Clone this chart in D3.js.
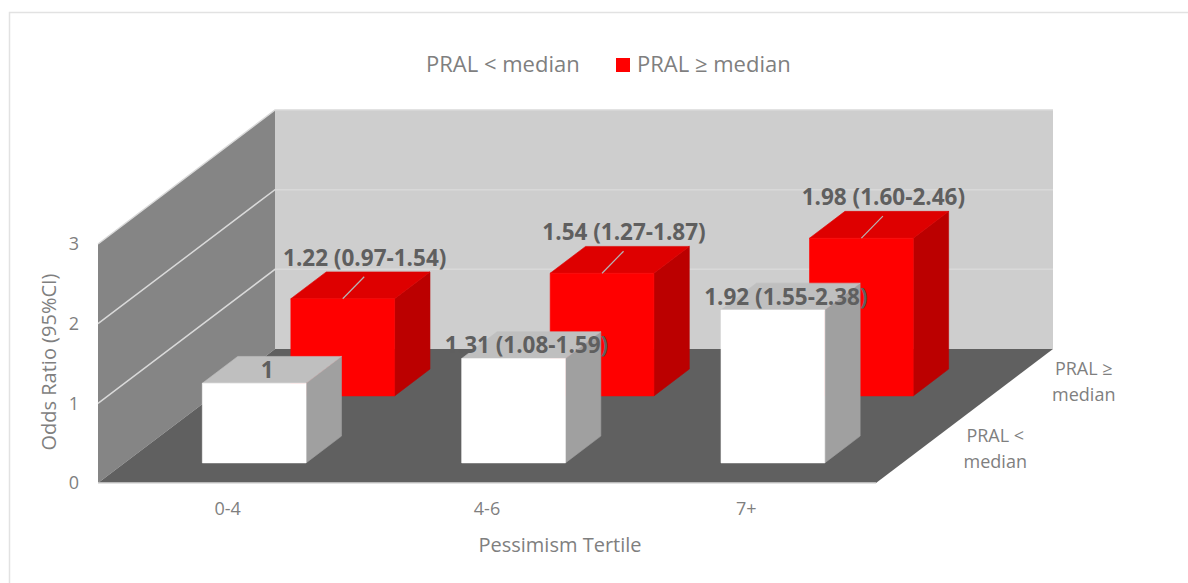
<!DOCTYPE html>
<html lang="en">
  <head>
    <title>Odds Ratio by Pessimism Tertile</title>
    <script src="https://d3js.org/d3.v7.min.js"></script>
    <style>
      html, body { margin: 0; padding: 0; background: #fff; }
      svg { display: block; }
      text { font-family: "Open Sans", sans-serif; }
      .tick-label { font-size: 18px; fill: #7f7f7f; }
      .axis-title { font-size: 20px; fill: #7f7f7f; }
      .legend-label { font-size: 22px; fill: #7f7f7f; }
      .bar-label { font-size: 22.5px; font-weight: 700; fill: #5f5f5f; }
    </style>
  </head>
  <body>
    <script>
      const categories = ['0-4', '4-6', '7+'];
      const series = ['PRAL < median', 'PRAL ≥ median'];
      const oddsRatio = [
        [1, 1.31, 1.92],
        [1.22, 1.54, 1.98]
      ];
      const barLabels = [
        ['1', '1.31 (1.08-1.59)', '1.92 (1.55-2.38)'],
        ['1.22 (0.97-1.54)', '1.54 (1.27-1.87)', '1.98 (1.60-2.46)']
      ];
      const yTicks = [0, 1, 2, 3];

      const w = 1188;
      const h = 583;

      // front left corner of the floor and the depth vector of the 3D box
      const origin = { x: 98, y: 483 };
      const plotWidth = 778;
      const plotHeight = 239;
      const depthVec = { x: 177, y: -134 };

      const xScale = d3.scaleBand()
                       .domain(categories)
                       .range([0, plotWidth])
                       .paddingInner(0.6)
                       .paddingOuter(0.3);

      const zScale = d3.scaleBand()
                       .domain(series)
                       .range([0, 1])
                       .paddingInner(0.6)
                       .paddingOuter(0.3);

      const yScale = d3.scaleLinear().domain([0, 3]).range([0, plotHeight]);

      // x in px along the front, z in 0-1 going back, v in data units
      const project = (x, z, v) => [
        origin.x + x + z * depthVec.x,
        origin.y + z * depthVec.y - yScale(v)
      ];
      const poly = pts => d3.line()(pts) + 'Z';

      const svg = d3.select('body')
                    .append('svg')
                    .attr('width', w)
                    .attr('height', h);

      // chart frame, cut off by the picture on the right and bottom
      svg.append('path')
         .attr('d', `M9.5,${h}V12.5H${w}`)
         .attr('fill', 'none')
         .attr('stroke', '#e2e2e2')
         .attr('stroke-width', 1.5);

      // walls and floor
      const maxTick = yTicks[yTicks.length - 1];
      svg.append('path')
         .attr('fill', '#cecece')
         .attr('d', poly([project(0, 1, 0), project(0, 1, maxTick), project(plotWidth, 1, maxTick), project(plotWidth, 1, 0)]));
      svg.append('path')
         .attr('fill', '#858585')
         .attr('d', poly([project(0, 0, 0), project(0, 0, maxTick), project(0, 1, maxTick), project(0, 1, 0)]));
      svg.append('path')
         .attr('fill', '#606060')
         .attr('d', poly([project(0, 0, 0), project(plotWidth, 0, 0), project(plotWidth, 1, 0), project(0, 1, 0)]));

      // gridlines on both walls
      svg.append('g')
         .selectAll('path')
         .data(yTicks)
         .enter()
         .append('path')
          .attr('fill', 'none')
          .attr('stroke', '#d9d9d9')
          .attr('stroke-width', 1.5)
          .attr('d', d => d3.line()(d === 0
            ? [project(0, 0, 0), project(plotWidth, 0, 0)]
            : [project(0, 0, d), project(0, 1, d), project(plotWidth, 1, d)]));

      // bars, back series first so the front one covers it
      const barColors = [
        { front: '#ffffff', top: '#bfbfbf', side: '#a0a0a0' },
        { front: '#ff0000', top: '#de0000', side: '#bb0000' }
      ];
      const labelOffset = [{ x: 13, y: -13 }, { x: 22, y: -41 }];

      d3.range(series.length).reverse().forEach(si => {
        const s = series[si];
        const z0 = zScale(s);
        const z1 = z0 + zScale.bandwidth();
        const colors = barColors[si];
        const g = svg.append('g').attr('class', 'series');

        categories.forEach((c, ci) => {
          const v = oddsRatio[si][ci];
          const x0 = xScale(c);
          const x1 = x0 + xScale.bandwidth();

          // a thin stroke in the face colour hides the seam between faces
          const face = (color, pts) => g.append('path')
                                        .attr('fill', color)
                                        .attr('stroke', color)
                                        .attr('stroke-width', 0.6)
                                        .attr('d', poly(pts));

          face(colors.side, [project(x1, z0, 0), project(x1, z1, 0), project(x1, z1, v), project(x1, z0, v)]);
          face(colors.top, [project(x0, z0, v), project(x1, z0, v), project(x1, z1, v), project(x0, z1, v)]);
          face(colors.front, [project(x0, z0, 0), project(x1, z0, 0), project(x1, z0, v), project(x0, z0, v)]);
        });
      });

      // leader lines and data labels go above all the bars
      d3.range(series.length).reverse().forEach(si => {
        const s = series[si];
        categories.forEach((c, ci) => {
          const v = oddsRatio[si][ci];
          const [cx, cy] = project(xScale(c) + xScale.bandwidth() / 2, zScale(s), v);

          if (si === 1) {
            svg.append('line')
               .attr('x1', cx)
               .attr('y1', cy)
               .attr('x2', cx + 21.5)
               .attr('y2', cy - 22)
               .attr('stroke', '#b5b5b5')
               .attr('stroke-width', 1.2);
          }

          svg.append('text')
             .attr('class', 'bar-label')
             .attr('text-anchor', 'middle')
             .attr('x', cx + labelOffset[si].x)
             .attr('y', cy + labelOffset[si].y)
             .attr('dy', '0.35em')
             .text(barLabels[si][ci]);
        });
      });

      // value axis
      const yAxisScale = d3.scaleLinear().domain([0, 3]).range([origin.y, origin.y - plotHeight]);
      const yAxis = svg.append('g')
                       .attr('transform', `translate(${origin.x - 16}, 0)`)
                       .call(d3.axisLeft(yAxisScale).tickValues(yTicks).tickFormat(d3.format('d')).tickSize(0));
      yAxis.select('.domain').remove();
      yAxis.selectAll('text').attr('class', 'tick-label');

      // category axis
      const xAxis = svg.append('g')
                       .attr('transform', `translate(${origin.x}, ${origin.y + 16})`)
                       .call(d3.axisBottom(xScale).tickSize(0));
      xAxis.select('.domain').remove();
      xAxis.selectAll('text').attr('class', 'tick-label');

      // series labels along the right floor edge, wrapped on two lines
      const seriesLabels = svg.append('g');
      series.forEach(s => {
        const z = zScale(s) + zScale.bandwidth() / 2;
        const [px, py] = project(plotWidth, z, 0);
        const words = s.split(' ');
        const t = seriesLabels.append('text')
                              .attr('class', 'tick-label')
                              .attr('text-anchor', 'middle');
        t.append('tspan').attr('x', px + 75).attr('y', py - 8).text(words.slice(0, 2).join(' '));
        t.append('tspan').attr('x', px + 75).attr('y', py + 18).text(words[2]);
      });

      // axis titles
      svg.append('text')
         .attr('class', 'axis-title')
         .attr('text-anchor', 'middle')
         .attr('transform', 'translate(56, 362) rotate(-90)')
         .text('Odds Ratio (95%CI)');
      svg.append('text')
         .attr('class', 'axis-title')
         .attr('text-anchor', 'middle')
         .attr('x', 560)
         .attr('y', 552)
         .text('Pessimism Tertile');

      // legend
      const legendX = d3.scaleOrdinal().domain(series).range([405, 616]);
      const legend = svg.append('g')
                        .selectAll('g')
                        .data(series)
                        .enter()
                        .append('g')
                        .attr('transform', d => `translate(${legendX(d)}, 58)`);
      legend.append('rect')
            .attr('width', 14)
            .attr('height', 14)
            .attr('fill', (d, i) => barColors[i].front);
      legend.append('text')
            .attr('class', 'legend-label')
            .attr('x', 21)
            .attr('y', 14)
            .text(d => d);
    </script>
  </body>
</html>
